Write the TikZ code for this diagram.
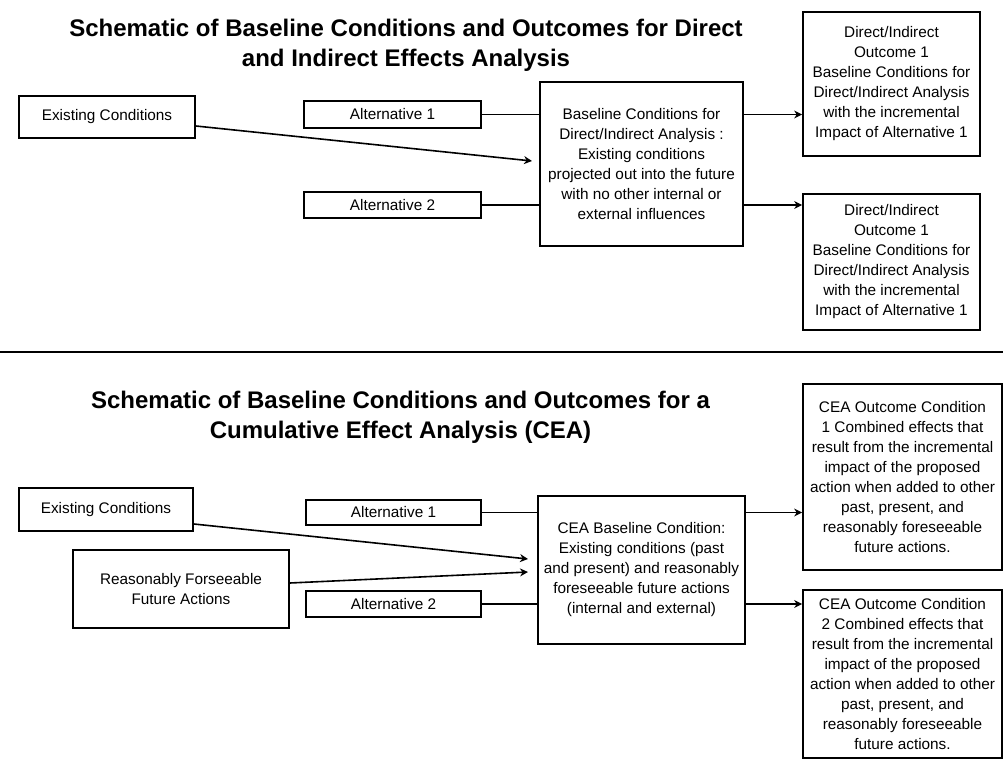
\documentclass[tikz,border=0pt]{standalone}
\usepackage{fontspec}
\setmainfont{Liberation Sans}
\usetikzlibrary{arrows.meta,calc}
\begin{document}
\begin{tikzpicture}[x=0.75pt,y=-0.75pt,
  box/.style={draw=black,line width=1.3pt,rectangle,inner sep=0pt,align=center,
    font=\fontsize{11.5pt}{15pt}\selectfont},
  ttl/.style={align=center,font=\fontsize{18pt}{22.5pt}\selectfont\bfseries},
  conn/.style={line width=1.2pt},
  arr/.style={line width=1.2pt,-{Stealth[length=6pt,width=6pt]}}]
\fill[white] (0,0) rectangle (1003,760);
\useasboundingbox (0,0) rectangle (1003,760);

% ---------- top section ----------
\node[ttl] (t1) at (406,45) {Schematic of Baseline Conditions and Outcomes for Direct\\and Indirect Effects Analysis};

\node[box,minimum width=132pt,minimum height=31.5pt] (ec1) at (107,117) {Existing Conditions};
\node[box,minimum width=132.75pt,minimum height=20.25pt] (a11) at (392.5,114.5) {Alternative 1};
\node[box,minimum width=132.75pt,minimum height=19.5pt] (a12) at (392.5,205) {Alternative 2};
\node[box,minimum width=152.25pt,minimum height=123pt] (bl1) at (641.5,164)
  {Baseline Conditions for\\Direct/Indirect Analysis :\\Existing conditions\\projected out into the future\\with no other internal or\\external influences};
\node[box,minimum width=132.75pt,minimum height=108pt] (o11) at (891.5,84)
  {Direct/Indirect\\Outcome 1\\Baseline Conditions for\\Direct/Indirect Analysis\\with the incremental\\Impact of Alternative 1};
\node[box,minimum width=132.75pt,minimum height=102pt] (o12) at (891.5,262)
  {Direct/Indirect\\Outcome 1\\Baseline Conditions for\\Direct/Indirect Analysis\\with the incremental\\Impact of Alternative 1};

\coordinate (tip1) at (532,161);
\draw[conn] (a11.east) -- (a11.east -| bl1.west);
\draw[conn] (a12.east) -- (a12.east -| bl1.west);
\draw[arr] ($(ec1.east)+(0,9)$) -- (tip1);
\draw[arr] (bl1.east |- a11.east) -- (o11.west |- a11.east);
\draw[arr] (bl1.east |- a12.east) -- (o12.west |- a12.east);

% separator
\coordinate (sepL) at (0,352);
\coordinate (sepR) at (1003,352);
\draw[line width=1.4pt] (sepL) -- (sepR);

% ---------- bottom section ----------
\node[ttl] (t2) at (400.5,417) {Schematic of Baseline Conditions and Outcomes for a\\Cumulative Effect Analysis (CEA)};

\node[box,minimum width=130.5pt,minimum height=32.25pt] (ec2) at (106,509.5) {Existing Conditions};
\node[box,minimum width=162pt,minimum height=58.5pt] (rf) at (181,589) {Reasonably Forseeable\\Future Actions};
\node[box,minimum width=131.25pt,minimum height=18.75pt] (a21) at (393.5,512.5) {Alternative 1};
\node[box,minimum width=131.25pt,minimum height=19.5pt] (a22) at (393.5,604) {Alternative 2};
\node[box,minimum width=155.25pt,minimum height=111pt] (bl2) at (641.5,570)
  {CEA Baseline Condition:\\Existing conditions (past\\and present) and reasonably\\foreseeable future actions\\(internal and external)};
\node[box,minimum width=149.25pt,minimum height=139.5pt] (o21) at (902.5,477)
  {CEA Outcome Condition\\1 Combined effects that\\result from the incremental\\impact of the proposed\\action when added to other\\past, present, and\\reasonably foreseeable\\future actions.};
\node[box,minimum width=149.25pt,minimum height=126pt] (o22) at (902.5,674)
  {CEA Outcome Condition\\2 Combined effects that\\result from the incremental\\impact of the proposed\\action when added to other\\past, present, and\\reasonably foreseeable\\future actions.};

\coordinate (tip2) at (528,559);
\coordinate (tip3) at (528,572);
\draw[conn] (a21.east) -- (a21.east -| bl2.west);
\draw[conn] (a22.east) -- (a22.east -| bl2.west);
\draw[arr] ($(ec2.east)+(0,14.5)$) -- (tip2);
\draw[arr] ($(rf.east)+(0,-6)$) -- (tip3);
\draw[arr] (bl2.east |- a21.east) -- (o21.west |- a21.east);
\draw[arr] (bl2.east |- a22.east) -- (o22.west |- a22.east);
\end{tikzpicture}
\end{document}
